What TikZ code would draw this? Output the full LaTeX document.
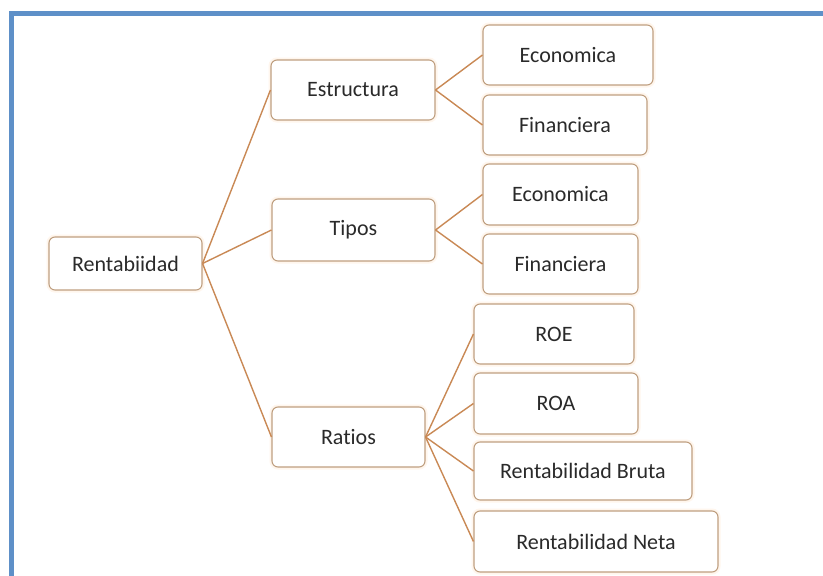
\documentclass[tikz,border=0pt]{standalone}
\usepackage{fontspec}
\setmainfont{Carlito}[Ligatures={NoCommon}]
\usepackage{tikz}
\usetikzlibrary{positioning}

\definecolor{framblue}{HTML}{5E90C8}
\definecolor{boxline}{HTML}{BF9F80}
\definecolor{linkline}{HTML}{C98955}
\definecolor{txtgray}{HTML}{2A2A2A}

\begin{document}
\begin{tikzpicture}[x=1pt, y=-1pt,
    box/.style={draw=boxline, line width=1.1pt, rounded corners=6pt, fill=white,
        preaction={draw=orange!7, line width=5pt},
        text=txtgray, font=\fontsize{22}{26}\selectfont, inner sep=0pt},
    link/.style={draw=linkline, line width=1.4pt}]
    \useasboundingbox (0, 0) rectangle (823, 576);
    \fill[white] (0, 0) rectangle (823, 576);

    % frame
    \draw[framblue, line width=5pt] (11, 576) -- (11, 13.5) -- (823, 13.5);

    \node[box, minimum width=153, minimum height=53] (r) at (125.5, 263.5) {Rentabiidad};
    \node[box, minimum width=164, minimum height=60] (e) at (353, 90) {Estructura};
    \node[box, minimum width=163, minimum height=62] (t) at (353.5, 230) {Tipos};
    \node[box, minimum width=153, minimum height=60] (ra) at (348.5, 437) {Ratios};

    \node[box, minimum width=170, minimum height=60] (e1) at (568, 55) {Economica};
    \node[box, minimum width=164, minimum height=60] (e2) at (565, 125) {Financiera};
    \node[box, minimum width=155, minimum height=61] (t1) at (560.5, 194.5) {Economica};
    \node[box, minimum width=155, minimum height=60] (t2) at (560.5, 264) {Financiera};
    \node[box, minimum width=160, minimum height=60] (ra1) at (554, 334) {ROE};
    \node[box, minimum width=164, minimum height=61] (ra2) at (556, 403.5) {ROA};
    \node[box, minimum width=218, minimum height=58] (ra3) at (583, 471) {Rentabilidad Bruta};
    \node[box, minimum width=244, minimum height=61] (ra4) at (596, 541.5) {Rentabilidad Neta};

    \draw[link]
    (r.east) edge (e.west)
    (r.east) edge (t.west)
    (r.east) edge (ra.west)
    (e.east) edge (e1.west)
    (e.east) edge (e2.west)
    (t.east) edge (t1.west)
    (t.east) edge (t2.west)
    (ra.east) edge (ra1.west)
    (ra.east) edge (ra2.west)
    (ra.east) edge (ra3.west)
    (ra.east) edge (ra4.west);
\end{tikzpicture}
\end{document}
